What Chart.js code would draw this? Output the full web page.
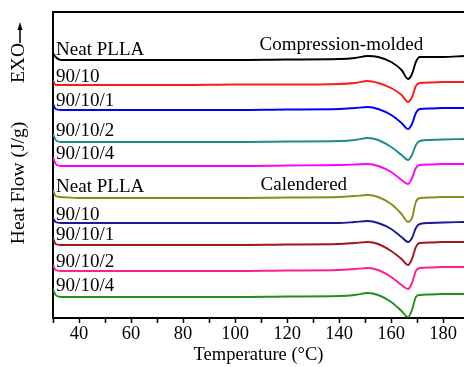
<!DOCTYPE html>
<html>
<head>
<meta charset="utf-8">
<script src="https://cdn.jsdelivr.net/npm/chart.js@4.4.1/dist/chart.umd.min.js"></script>
<style>
  html, body { margin: 0; padding: 0; background: #fff; }
  #wrap { width: 464px; height: 367px; }
</style>
</head>
<body>
<div id="wrap"><canvas id="dscChart" width="464" height="367"></canvas></div>
<script>
const temperatures = [30, 31, 33, 40, 60, 80, 100, 120, 140, 146, 151, 155, 160, 164, 166.5, 168, 169.5, 171, 175, 180, 188]

// heat flow, arbitrary offset units (curves are stacked)
// compression-molded
const cmNeat   = [265, 261, 258, 258, 258, 258, 258, 258.5, 259, 260, 262, 261, 256, 248, 239, 244, 256, 261, 261, 261, 262]
const cm9010   = [238, 233, 233, 233, 233, 233, 233.5, 233.5, 234, 235, 237, 235, 230, 223, 216, 221, 232, 235, 235.5, 236, 236]
const cm90101  = [214, 209, 208, 208, 208, 208, 208, 208.5, 209, 210, 211, 209, 203, 195, 189, 194, 205, 209, 209.5, 210, 210]
const cm90102  = [184, 178, 176, 176, 176, 176, 176, 176.5, 177, 178, 180, 178, 171, 163, 158, 163, 173, 177, 178, 178.5, 179]
const cm90104  = [161, 154, 152, 152, 152, 152, 152, 152.5, 153, 153.5, 154, 152, 146, 138, 134, 140, 150, 153, 153.5, 154, 154]
// calendered
const calNeat  = [128, 122, 121, 120, 120, 120, 120, 120.5, 121, 122, 123, 121, 114, 104, 96, 100, 116, 120, 120.5, 121, 121]
const cal9010  = [100, 96, 95, 95, 95, 95, 95, 95, 95, 96, 97, 95, 89, 81, 76, 80, 90, 94, 95, 95.5, 96]
const cal90101 = [80, 74, 73, 73, 73, 73, 73, 73.5, 74, 75, 76, 74, 67, 59, 53, 59, 71, 75, 75.5, 76, 76]
const cal90102 = [53, 48, 47, 47, 47, 47, 47, 47.5, 48, 49, 50, 48, 41, 33, 29, 35, 47, 50, 50.5, 51, 51]
const cal90104 = [29, 23, 21, 21, 21, 21, 21, 21.5, 22, 23, 25, 23, 16, 7, 1, 8, 21, 23, 23.5, 24, 24]

const sampleNames = ['Neat PLLA', '90/10', '90/10/1', '90/10/2', '90/10/4']
const groupNames  = ['Compression-molded', 'Calendered']

const seriesList = [cmNeat, cm9010, cm90101, cm90102, cm90104, calNeat, cal9010, cal90101, cal90102, cal90104]
const colors = ['#000000', '#ff1a1a', '#0000ff', '#1f8a8a', '#ff00ff',
                '#8c8c14', '#1a1a99', '#a01818', '#ff1f8f', '#1f8f1f']

const serif = '"Liberation Serif", "Times New Roman", serif'

const toPoints = (arr) => temperatures.map((t, i) => ({ x: t, y: arr[i] }))

// annotations: sample names, group titles, EXO arrow, y title, top frame
const annotations = {
  id: 'annotations',
  afterDraw(chart) {
    const { ctx, chartArea, scales } = chart
    const x = scales.x
    const y = scales.y
    ctx.save()

    // top frame line
    ctx.strokeStyle = '#000'
    ctx.lineWidth = 2
    ctx.beginPath()
    ctx.moveTo(chartArea.left, chartArea.top)
    ctx.lineTo(chartArea.right, chartArea.top)
    ctx.stroke()

    ctx.fillStyle = '#000'
    ctx.font = '19px ' + serif
    ctx.textAlign = 'left'
    ctx.textBaseline = 'alphabetic'

    // sample names above each curve start
    chart.data.datasets.forEach((ds, i) => {
      const px = x.getPixelForValue(31.2)
      const py = y.getPixelForValue(ds.data[0].y) + 2
      ctx.fillText(sampleNames[i % 5], px, py)
    })

    // group titles
    ctx.fillText(groupNames[0], x.getPixelForValue(109.4), y.getPixelForValue(268))
    ctx.fillText(groupNames[1], x.getPixelForValue(109.8), y.getPixelForValue(128))

    // y axis title + EXO arrow
    ctx.font = '19.5px ' + serif
    ctx.textAlign = 'center'
    ctx.textBaseline = 'middle'
    ctx.save()
    ctx.translate(19, 183)
    ctx.rotate(-Math.PI / 2)
    ctx.fillText('Heat Flow (J/g)', 0, 0)
    ctx.restore()

    ctx.save()
    ctx.translate(19, 63)
    ctx.rotate(-Math.PI / 2)
    ctx.fillText('EXO', 0, 0)
    ctx.restore()

    ctx.lineWidth = 1.5
    ctx.beginPath()
    ctx.moveTo(20, 43)
    ctx.lineTo(20, 28)
    ctx.stroke()
    ctx.beginPath()
    ctx.moveTo(20, 22)
    ctx.lineTo(17.5, 30)
    ctx.lineTo(22.5, 30)
    ctx.closePath()
    ctx.fill()

    ctx.restore()
  }
}

const ctx = document.getElementById('dscChart').getContext('2d')

new Chart(ctx, {
  type: 'line',
  data: {
    datasets: seriesList.map((arr, i) => ({
      data: toPoints(arr),
      borderColor: colors[i],
      borderWidth: 1.9,
      pointRadius: 0,
      fill: false,
      cubicInterpolationMode: 'monotone'
    }))
  },
  options: {
    responsive: false,
    animation: false,
    layout: { padding: { top: 12, right: 0, left: 0, bottom: 0 } },
    plugins: {
      legend: { display: false },
      tooltip: { enabled: false }
    },
    scales: {
      x: {
        type: 'linear',
        min: 30,
        max: 188,
        afterFit: (scale) => { scale.height = 49 },
        ticks: {
          stepSize: 10,
          includeBounds: false,
          autoSkip: false,
          maxRotation: 0,
          padding: 0,
          color: '#000',
          font: { family: serif, size: 18.5 },
          callback: (value) => (value % 20 === 0 ? value : '')
        },
        grid: {
          drawOnChartArea: false,
          tickLength: 5,
          tickWidth: 1.5,
          tickColor: '#000'
        },
        border: { display: true, color: '#000', width: 2 },
        title: {
          display: true,
          text: 'Temperature (°C)',
          color: '#000',
          font: { family: serif, size: 18.5 },
          padding: { top: 0, bottom: 1 }
        }
      },
      y: {
        min: 0,
        max: 306,
        afterFit: (scale) => { scale.width = 53 },
        ticks: { display: false },
        grid: { display: false },
        border: { display: true, color: '#000', width: 2 }
      }
    }
  },
  plugins: [annotations]
})
</script>
</body>
</html>
